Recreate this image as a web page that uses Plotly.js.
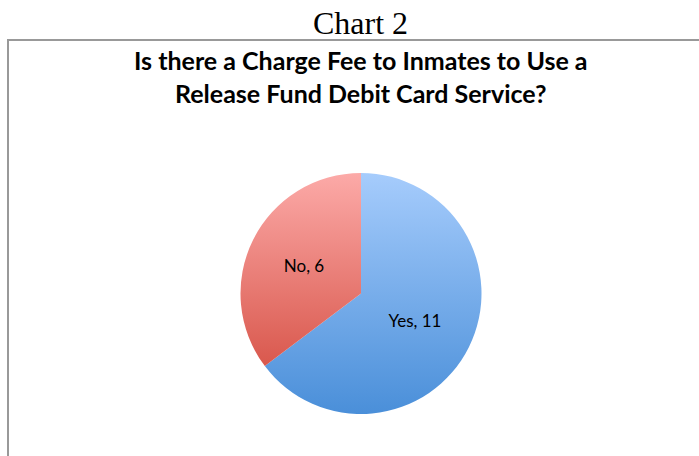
<!DOCTYPE html>
<html>
<head>
<meta charset="utf-8">
<script src="https://cdn.plot.ly/plotly-3.0.1.min.js"></script>
<style>html,body{margin:0;padding:0;background:#fff;}#chart{width:699px;height:456px;}</style>
</head>
<body>
<div id="chart"></div>
<script>
const categories = ["Yes", "No"];
const counts = [11, 6];
const sliceColors = ["#79adea", "#eb867f"];
const gradientTop = ["#a6ccfc", "#fcaaa8"];
const gradientBottom = ["#4a8fd9", "#d9584d"];
const pageTitle = "Chart 2";
const chartTitle = "Is there a Charge Fee to Inmates to Use a<br>Release Fund Debit Card Service?";

const W = 699, H = 456;
const px = v => v / W;
const py = v => 1 - v / H;

const trace = {
  type: "pie",
  labels: categories,
  values: counts,
  sort: false,
  direction: "clockwise",
  rotation: 0,
  marker: { colors: sliceColors, line: { width: 0 } },
  texttemplate: "%{label}, %{value}",
  textposition: "inside",
  insidetextorientation: "horizontal",
  textfont: { family: "Lato, sans-serif", size: 17, color: "#000" },
  hoverinfo: "label+value",
  showlegend: false,
  domain: { x: [px(240), px(482)], y: [py(414), py(173)] }
};

const layout = {
  width: W, height: H,
  margin: { l: 0, r: 0, t: 0, b: 0 },
  paper_bgcolor: "#fff",
  showlegend: false,
  shapes: [{
    type: "path", xref: "paper", yref: "paper",
    path: `M ${px(8)} ${py(470)} L ${px(8)} ${py(40)} L ${px(720)} ${py(40)}`,
    line: { color: "#999", width: 2 }
  }],
  annotations: [
    { text: pageTitle, xref: "paper", yref: "paper", x: px(360), y: py(23), xanchor: "center", yanchor: "middle",
      showarrow: false, font: { family: "Liberation Serif, serif", size: 32, color: "#000" } },
    { text: chartTitle, xref: "paper", yref: "paper", x: px(361), y: py(43), xanchor: "center", yanchor: "top",
      showarrow: false, font: { family: "Lato, sans-serif", size: 25, color: "#000", weight: "bold" } }
  ]
};

Plotly.newPlot("chart", [trace], layout, { displayModeBar: false, staticPlot: true }).then(function (gd) {
  const svg = gd.querySelector("svg.main-svg");
  const NS = "http://www.w3.org/2000/svg";
  const defs = document.createElementNS(NS, "defs");
  categories.forEach(function (c, i) {
    const g = document.createElementNS(NS, "linearGradient");
    g.setAttribute("id", "sliceGrad" + i);
    g.setAttribute("x1", "0"); g.setAttribute("y1", "0");
    g.setAttribute("x2", "0"); g.setAttribute("y2", "1");
    [[0, gradientTop[i]], [1, gradientBottom[i]]].forEach(function (s) {
      const st = document.createElementNS(NS, "stop");
      st.setAttribute("offset", s[0]);
      st.setAttribute("stop-color", s[1]);
      g.appendChild(st);
    });
    defs.appendChild(g);
  });
  svg.insertBefore(defs, svg.firstChild);
  gd.querySelectorAll("g.slice path.surface").forEach(function (p, i) {
    p.style.fill = "url(#sliceGrad" + i + ")";
  });
});
</script>
</body>
</html>
